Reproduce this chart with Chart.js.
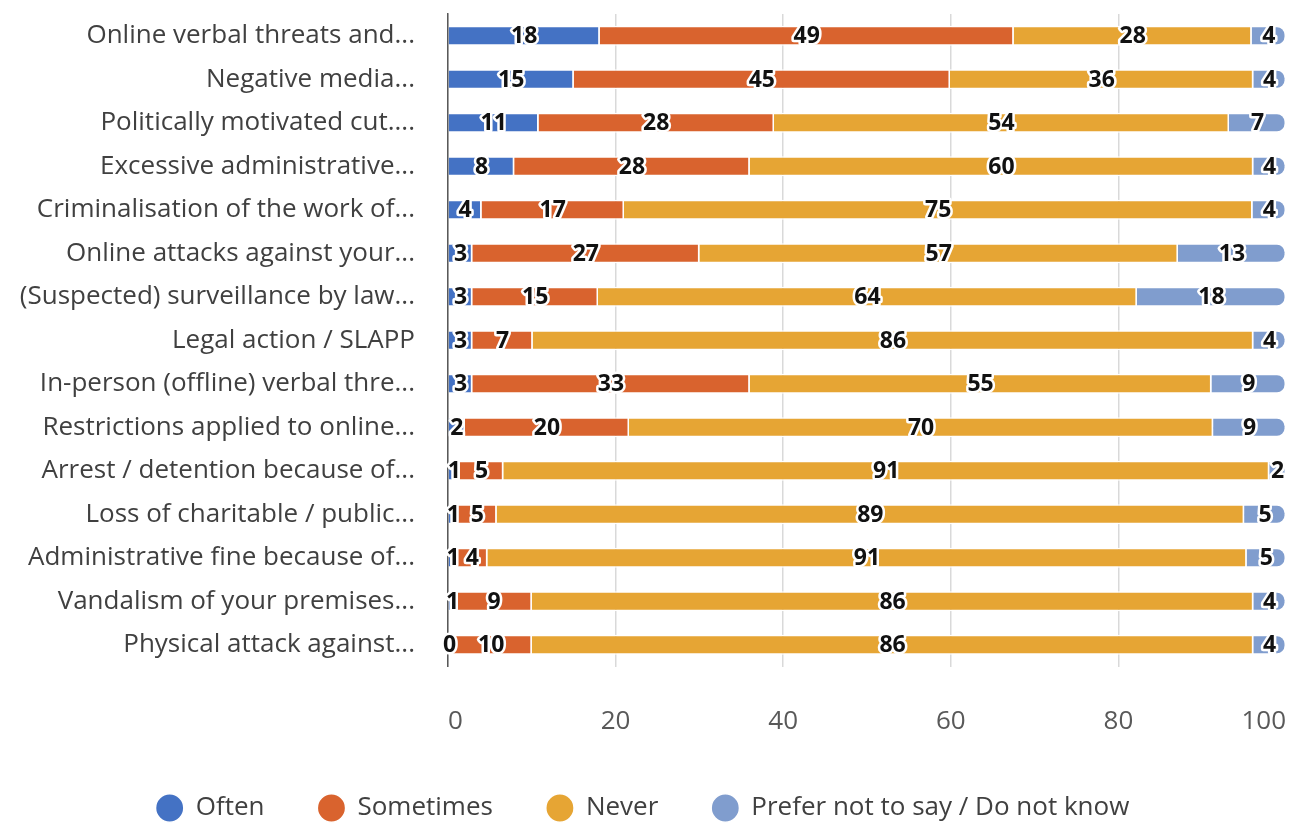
<!DOCTYPE html>
<html>
<head>
<meta charset="utf-8">
<script src="https://cdn.jsdelivr.net/npm/chart.js@4.4.1/dist/chart.umd.min.js"></script>
<style>
  html, body { margin: 0; padding: 0; background: #fff; }
  #wrap { width: 1289px; height: 823px; }
</style>
</head>
<body>
<div id="wrap"><canvas id="threatsChart" width="1289" height="823"></canvas></div>
<script>
// categories, top to bottom
var categories = [
  'Online verbal threats and...',
  'Negative media...',
  'Politically motivated cut....',
  'Excessive administrative...',
  'Criminalisation of the work of...',
  'Online attacks against your...',
  '(Suspected) surveillance by law...',
  'Legal action / SLAPP',
  'In-person (offline) verbal thre...',
  'Restrictions applied to online...',
  'Arrest / detention because of...',
  'Loss of charitable / public...',
  'Administrative fine because of...',
  'Vandalism of your premises...',
  'Physical attack against...'
];

// shares in %, one value per category
var often      = [18.1, 15.0, 10.8, 7.9, 4.0, 2.9, 2.9, 2.9, 2.9, 2.0, 1.4, 1.2, 1.1, 1.0, 0.3];
var sometimes  = [49.4, 44.9, 28.1, 28.1, 17.0, 27.1, 15.0, 7.2, 33.1, 19.6, 5.2, 4.6, 3.6, 9.0, 9.7];
var never      = [28.4, 36.2, 54.3, 60.1, 75.0, 57.1, 64.3, 86.0, 55.1, 69.7, 91.4, 89.2, 90.6, 86.1, 86.1];
var preferNot  = [4.1, 3.9, 6.8, 3.9, 4.0, 12.9, 17.8, 3.9, 8.9, 8.7, 2.0, 5.0, 4.7, 3.9, 3.9];

var xTicks = [0, 20, 40, 60, 80, 100];

var seriesNames = ['Often', 'Sometimes', 'Never', 'Prefer not to say / Do not know'];
var seriesColors = ['#4472C4', '#D9632E', '#E6A534', '#809DCE'];

var FONT = "'Open Sans', 'Noto Sans', sans-serif";
Chart.defaults.font.family = FONT;

// value labels in the middle of every segment, black with a white halo
var segmentLabels = {
  id: 'segmentLabels',
  afterDatasetsDraw: function (chart) {
    var ctx = chart.ctx;
    ctx.save();
    ctx.font = "bold 23px " + FONT;
    ctx.textAlign = 'center';
    ctx.textBaseline = 'middle';
    ctx.lineJoin = 'round';
    ctx.lineWidth = 5;
    ctx.strokeStyle = '#ffffff';
    ctx.fillStyle = '#111111';
    chart.data.datasets.forEach(function (ds, i) {
      var meta = chart.getDatasetMeta(i);
      meta.data.forEach(function (bar, j) {
        var p = bar.getProps(['x', 'base', 'y'], true);
        var txt = String(Math.round(ds.data[j]));
        var cx = (p.x + p.base) / 2;
        ctx.strokeText(txt, cx, p.y + 1);
        ctx.fillText(txt, cx, p.y + 1);
      });
    });
    ctx.restore();
  }
};

// put the legend row so that its items sit at y = 808
var legendShift = {
  id: 'legendShift',
  afterLayout: function (chart) {
    var lg = chart.legend;
    if (!lg) return;
    var pad = lg.options.labels.padding;
    var itemH = lg.options.labels.font.size;
    var d = 808 - (lg.top + pad + itemH / 2);
    lg.top += d;
    lg.bottom += d;
  }
};

function makeDataset(idx, values) {
  return {
    label: seriesNames[idx],
    data: values,
    backgroundColor: seriesColors[idx],
    borderColor: '#ffffff',
    borderWidth: 1.5,
    borderRadius: idx === 3 ? 9 : 0,
    categoryPercentage: 1,
    barPercentage: 0.46
  };
}

var chartCanvas = document.getElementById('threatsChart').getContext('2d');
var threatsChart = new Chart(chartCanvas, {
  type: 'bar',
  data: {
    labels: categories,
    datasets: [
      makeDataset(0, often),
      makeDataset(1, sometimes),
      makeDataset(2, never),
      makeDataset(3, preferNot)
    ]
  },
  options: {
    indexAxis: 'y',
    responsive: false,
    animation: false,
    layout: {
      padding: { top: 14, right: 3, bottom: 0, left: 0 }
    },
    scales: {
      x: {
        stacked: true,
        min: xTicks[0],
        max: xTicks[xTicks.length - 1],
        afterBuildTicks: function (scale) {
          scale.ticks = xTicks.map(function (v) { return { value: v }; });
        },
        ticks: {
          align: 'inner',
          padding: 39,
          color: '#595959',
          font: { size: 26 }
        },
        grid: {
          drawTicks: false,
          lineWidth: 1.5,
          color: function (c) {
            return (c.tick && c.tick.value === 100) ? 'rgba(0,0,0,0)' : '#d9d9d9';
          }
        },
        border: { display: false },
        afterFit: function (scale) {
          scale.height = 66.5;
          scale.paddingLeft = 0;
          scale.paddingRight = 0;
        }
      },
      y: {
        stacked: true,
        ticks: {
          autoSkip: false,
          padding: 33,
          color: '#404040',
          font: { size: 26 }
        },
        grid: { color: 'rgba(0,0,0,0)', drawTicks: false },
        border: { display: true, color: '#595959', width: 1.5 },
        afterFit: function (scale) {
          scale.width = 448;
          scale.paddingTop = 0;
          scale.paddingBottom = 0;
        }
      }
    },
    plugins: {
      tooltip: { enabled: false },
      legend: {
        position: 'bottom',
        labels: {
          usePointStyle: true,
          pointStyle: 'circle',
          boxWidth: 26,
          boxHeight: 20,
          padding: 54,
          color: '#404040',
          font: { size: 26 }
        }
      }
    }
  },
  plugins: [segmentLabels, legendShift]
});
</script>
</body>
</html>
